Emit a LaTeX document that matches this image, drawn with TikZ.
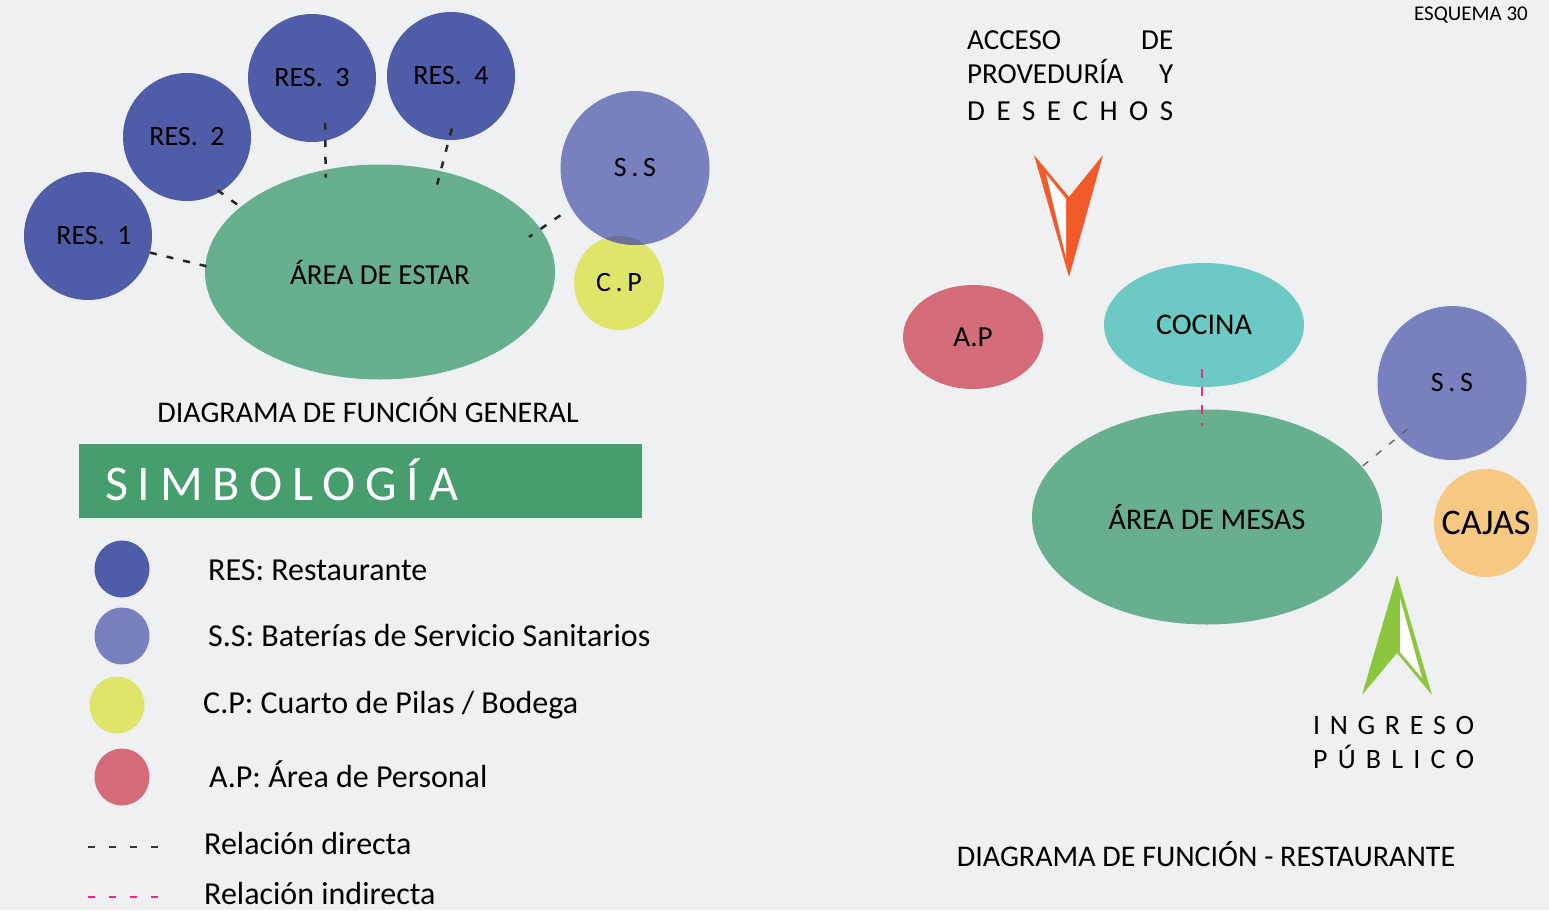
\documentclass[tikz,border=0pt]{standalone}
\usepackage{fontspec}
\setmainfont{Carlito}
\usetikzlibrary{shapes.geometric,calc}
\definecolor{bg}{HTML}{EEF0F2}
\definecolor{resblue}{HTML}{4F5CA8}
\definecolor{ssblue}{HTML}{7880BD}
\definecolor{cpyellow}{HTML}{DFE56B}
\definecolor{apred}{HTML}{D36B79}
\definecolor{zonegreen}{HTML}{67AF8E}
\definecolor{cocteal}{HTML}{6DC9C3}
\definecolor{cajorange}{HTML}{F6C882}
\definecolor{bargreen}{HTML}{469E6F}
\definecolor{arrorange}{HTML}{F15A29}
\definecolor{arrgreen}{HTML}{8CC63F}
\definecolor{overlap}{HTML}{6E7196}
\definecolor{indpink}{HTML}{EC2A8C}
\newcommand{\zl}[1]{\makebox[0pt]{#1}}
\begin{document}
\begin{tikzpicture}[x=1pt,y=-1pt,
  zone/.style={ellipse, inner sep=0pt, text=black, font=\fontsize{28}{30}\selectfont},
  resnode/.style={zone, fill=resblue, minimum width=128pt, minimum height=128pt},
  ssnode/.style={zone, fill=ssblue, minimum width=149pt, minimum height=154pt},
  bigzone/.style={zone, fill=zonegreen, minimum width=350pt, minimum height=215pt, font=\fontsize{29}{31}\selectfont},
  legdot/.style={ellipse, inner sep=0pt, minimum width=55pt, minimum height=57pt},
  legtext/.style={anchor=base west, inner sep=0pt, font=\fontsize{32}{34}\selectfont},
  title/.style={anchor=base, inner sep=0pt, font=\fontsize{30}{32}\selectfont},
  direct/.style={draw=black!85, line width=2.5pt, dash pattern=on 7pt off 10pt},
  indirect/.style={draw=indpink, line width=1.6pt, dash pattern=on 9pt off 9pt},
  legdirect/.style={draw=black!80, line width=2pt, dash pattern=on 7pt off 14pt},
  legindirect/.style={draw=indpink, line width=2pt, dash pattern=on 7pt off 14pt}
]
\fill[bg] (0,0) rectangle (1549,910);
\useasboundingbox (0,0) rectangle (1549,910);

% ---------- left diagram ----------
\node[resnode] (res1) at (88,236) {\zl{\hspace{12pt}RES.\ \ 1}};
\node[resnode] (res2) at (187,137) {\zl{RES.\ \ 2}};
\node[resnode] (res3) at (312,78) {\zl{RES.\ \ 3}};
\node[resnode] (res4) at (451,76) {\zl{RES.\ \ 4}};
\node[bigzone] (estar) at (380,272) {\zl{ÁREA DE ESTAR}};
\node[zone, fill=cpyellow, minimum width=90pt, minimum height=94pt] (cp) at (619,283) {\zl{C\,.\,P}};
\node[ssnode] (ssl) at (635,168) {\zl{S\,.\,S}};
\begin{scope}
  \clip (635,168) ellipse [x radius=74.5pt, y radius=77pt];
  \fill[overlap] (619,283) ellipse [x radius=45pt, y radius=47pt];
\end{scope}

\draw[direct, shorten >=-7pt] (res1.-15) -- (estar.178);
\draw[direct, shorten <=-3pt, shorten >=-3pt] (res2.-59) -- (estar.155);
\draw[direct, shorten <=-18pt, shorten >=-8pt] (res3.-78) -- (estar.118);
\draw[direct, shorten <=-12pt, shorten >=-18pt] (res4.-92) -- (estar.59);
\draw[direct, shorten <=13pt, shorten >=-14pt] (ssl.-148) -- (estar.15);

\node[title] (tgen) at (368,422) {DIAGRAMA DE FUNCIÓN GENERAL};

% ---------- legend ----------
\node[fill=bargreen, minimum width=563pt, minimum height=74pt, inner sep=0pt, anchor=north west] (bar) at (79,444) {};
\node[anchor=base west, inner sep=0pt, text=white, font=\fontsize{50}{52}\selectfont] (simb) at (105,500) {\makebox[353pt][s]{S I M B O L O G Í A}};

\node[legdot, fill=resblue] (lres) at (122,569) {};
\node[legdot, fill=ssblue] (lss) at (122,636) {};
\node[legdot, fill=cpyellow] (lcp) at (117,705) {};
\node[legdot, fill=apred] (lap) at (122,777) {};
\node[legtext] (tres) at (208,580) {RES: Restaurante};
\node[legtext] (tss) at (208,646) {S.S: Baterías de Servicio Sanitarios};
\node[legtext] (tcp) at (203,713) {C.P: Cuarto de Pilas / Bodega};
\node[legtext] (tap) at (209,787) {A.P: Área de Personal};
\node[legtext] (tdir) at (204,854) {Relación directa};
\node[legtext] (tind) at (204,904) {Relación indirecta};
\coordinate (ld1) at (88,847);
\coordinate (ld2) at (160,847);
\coordinate (li1) at (88,897);
\coordinate (li2) at (160,897);
\draw[legdirect] (ld1) -- (ld2);
\draw[legindirect] (li1) -- (li2);

% ---------- right diagram ----------
\node[anchor=base east, inner sep=0pt, font=\fontsize{21}{23}\selectfont] (esq) at (1528,20) {ESQUEMA 30};

\node[anchor=base west, inner sep=0pt, font=\fontsize{29}{31}\selectfont] (acc1) at (967,49) {\makebox[206pt][s]{ACCESO DE}};
\node[anchor=base west, inner sep=0pt, font=\fontsize{29}{31}\selectfont] (acc2) at (967,83) {\makebox[206pt][s]{PROVEDURÍA Y}};
\node[anchor=base west, inner sep=0pt, font=\fontsize{29}{31}\selectfont] (acc3) at (967,120) {\makebox[206pt][s]{D E S E C H O S}};

% orange arrow (access)
\fill[arrorange] (1034,155) -- (1069,197) -- (1103,155) -- (1069,277) -- cycle;
\fill[white] (1046,174) -- (1066,199) -- (1066,258) -- cycle;

\node[zone, fill=apred, minimum width=140pt, minimum height=104pt, font=\fontsize{29}{31}\selectfont] (ap) at (973,337) {\zl{A.P}};
\node[zone, fill=cocteal, minimum width=200pt, minimum height=124pt, font=\fontsize{30}{32}\selectfont] (coc) at (1204,325) {\zl{COCINA}};
\node[ssnode] (ssr) at (1452,383) {\zl{S\,.\,S}};
\node[bigzone, font=\fontsize{30}{32}\selectfont] (mesas) at (1207,517) {\zl{ÁREA DE MESAS}};
\node[zone, fill=cajorange, minimum width=104pt, minimum height=108pt, font=\fontsize{36}{38}\selectfont] (caj) at (1486,523) {\zl{CAJAS}};

\draw[indirect, shorten <=-18pt, shorten >=-17pt] ($(coc.south)+(-2,0)$) -- ($(mesas.north)+(-5,0)$);
\draw[direct, line width=1.4pt, draw=black!60, shorten <=-12pt] (ssr.-135) -- (mesas.18);

% green arrow (public entrance)
\fill[arrgreen] (1397,575) -- (1432,695) -- (1397,653) -- (1362,695) -- cycle;
\fill[white] (1400,598) -- (1422,678) -- (1400,652) -- cycle;

\node[anchor=base west, inner sep=0pt, font=\fontsize{28}{30}\selectfont] (ing1) at (1313,734) {\makebox[161pt][s]{I N G R E S O}};
\node[anchor=base west, inner sep=0pt, font=\fontsize{28}{30}\selectfont] (ing2) at (1313,768) {\makebox[161pt][s]{P Ú B L I C O}};

\node[title] (trest) at (1206,866) {DIAGRAMA DE FUNCIÓN - RESTAURANTE};
\end{tikzpicture}
\end{document}
